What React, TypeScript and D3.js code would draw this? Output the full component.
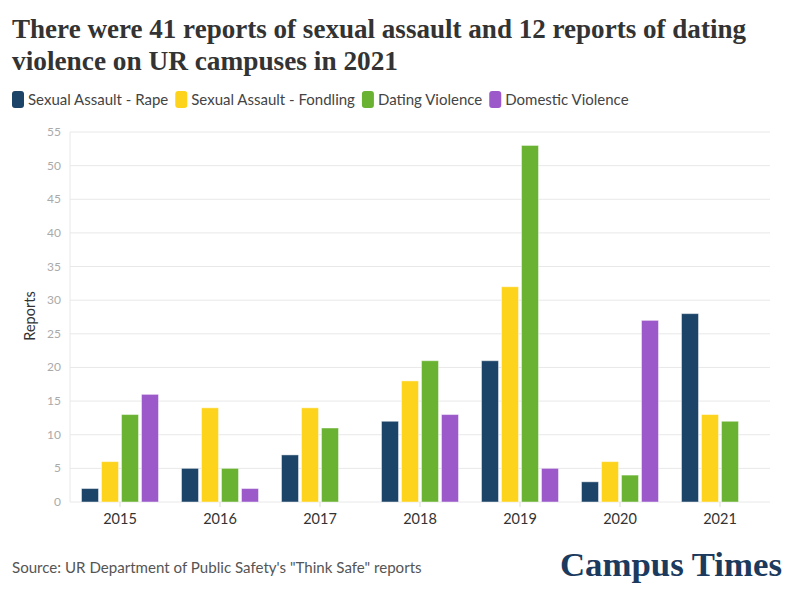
import { useRef, useEffect } from 'react';
import * as d3 from 'd3';

const years = ['2015', '2016', '2017', '2018', '2019', '2020', '2021'];
const seriesNames = ['Sexual Assault - Rape', 'Sexual Assault - Fondling', 'Dating Violence', 'Domestic Violence'];
const seriesColors = ['#1b4468', '#fdd31c', '#6ab232', '#9b59c9'];
const rape = [2, 5, 7, 12, 21, 3, 28];
const fondling = [6, 14, 14, 18, 32, 6, 13];
const dating = [13, 5, 11, 21, 53, 4, 12];
const domestic = [16, 2, 0, 13, 5, 27, 0];
const yTicks = [0, 5, 10, 15, 20, 25, 30, 35, 40, 45, 50, 55];

const W = 796;
const H = 593;
const sans = 'Lato, "Open Sans", sans-serif';

const App = () => {
  const svgRef = useRef<SVGSVGElement>(null);

  useEffect(() => {
    if (!svgRef.current) return;
    const svg = d3.select(svgRef.current);
    svg.selectAll('*').remove();

    const margin = { left: 70, right: 26, top: 132, bottom: 91 };
    const x0 = d3.scaleBand().domain(years).range([margin.left, W - margin.right]).padding(0);
    const x1 = d3.scaleBand<number>()
      .domain([0, 1, 2, 3])
      .range([0, x0.bandwidth()])
      .paddingInner(0.15)
      .paddingOuter(0.575);
    const y = d3.scaleLinear().domain([0, 55]).range([H - margin.bottom, margin.top]);

    // Title
    const title = svg.append('text')
      .attr('font-family', '"Liberation Serif", "DejaVu Serif", serif')
      .attr('font-weight', 'bold')
      .attr('font-size', 27.5)
      .attr('fill', '#333');
    title.append('tspan').attr('x', 12).attr('y', 38)
      .attr('textLength', 734).attr('lengthAdjust', 'spacingAndGlyphs')
      .text('There were 41 reports of sexual assault and 12 reports of dating');
    title.append('tspan').attr('x', 12).attr('y', 70)
      .attr('textLength', 386).attr('lengthAdjust', 'spacingAndGlyphs')
      .text('violence on UR campuses in 2021');

    // Legend
    let lx = 12;
    seriesNames.forEach((name, i) => {
      svg.append('rect')
        .attr('x', lx).attr('y', 91).attr('width', 12).attr('height', 17)
        .attr('rx', 3).attr('fill', seriesColors[i]);
      const t = svg.append('text')
        .attr('x', lx + 16).attr('y', 105)
        .attr('font-family', sans).attr('font-size', 15).attr('fill', '#444')
        .text(name);
      const len = (t.node() as SVGTextElement).getComputedTextLength();
      lx += 16 + len + 7;
    });

    // Grid
    const grid = svg.append('g');
    grid.selectAll('line').data(yTicks).enter().append('line')
      .attr('x1', margin.left).attr('x2', W - margin.right)
      .attr('y1', d => y(d)).attr('y2', d => y(d))
      .attr('stroke', '#e8e8e8').attr('stroke-width', 1);
    svg.append('line')
      .attr('x1', margin.left).attr('x2', margin.left)
      .attr('y1', y(55)).attr('y2', y(0))
      .attr('stroke', '#e8e8e8');

    // Y tick labels
    svg.append('g').selectAll('text').data(yTicks).enter().append('text')
      .attr('x', margin.left - 9).attr('y', d => y(d) + 4)
      .attr('text-anchor', 'end')
      .attr('font-family', sans).attr('font-size', 12).attr('fill', '#aaa')
      .text(d => d);

    svg.append('text')
      .attr('transform', `translate(35, 316) rotate(-90)`)
      .attr('text-anchor', 'middle')
      .attr('font-family', sans).attr('font-size', 14.5).attr('fill', '#333')
      .text('Reports');

    // X axis ticks and labels
    const xg = svg.append('g');
    years.forEach(yr => {
      const cx = (x0(yr) as number) + x0.bandwidth() / 2;
      xg.append('line').attr('x1', cx).attr('x2', cx).attr('y1', y(0)).attr('y2', y(0) + 5)
        .attr('stroke', '#ddd');
      xg.append('text').attr('x', cx).attr('y', y(0) + 22)
        .attr('text-anchor', 'middle')
        .attr('font-family', sans).attr('font-size', 14.5).attr('fill', '#333')
        .text(yr);
    });

    // Bars
    const series = [rape, fondling, dating, domestic];
    const bars = svg.append('g');
    years.forEach((yr, yi) => {
      series.forEach((vals, si) => {
        const v = vals[yi];
        if (!v) return;
        bars.append('rect')
          .attr('x', (x0(yr) as number) + (x1(si) as number))
          .attr('y', y(v))
          .attr('width', x1.bandwidth())
          .attr('height', y(0) - y(v))
          .attr('fill', seriesColors[si])
          .attr('stroke', 'rgba(255,255,255,0.45)')
          .attr('stroke-width', 1);
      });
    });

    // Footer
    svg.append('text')
      .attr('x', 12).attr('y', 573)
      .attr('font-family', sans).attr('font-size', 15.1).attr('fill', '#555')
      .text('Source: UR Department of Public Safety\'s "Think Safe" reports');

    svg.append('text')
      .attr('x', 560).attr('y', 576)
      .attr('textLength', 222).attr('lengthAdjust', 'spacingAndGlyphs')
      .attr('font-family', '"Liberation Serif", serif')
      .attr('font-weight', 'bold')
      .attr('font-size', 34).attr('fill', '#1b3a5e')
      .text('Campus Times');
  }, []);

  return (
    <svg ref={svgRef} width={W} height={H} style={{ position: 'absolute', left: 0, top: 0, background: '#fff' }} />
  );
};

export default App;
